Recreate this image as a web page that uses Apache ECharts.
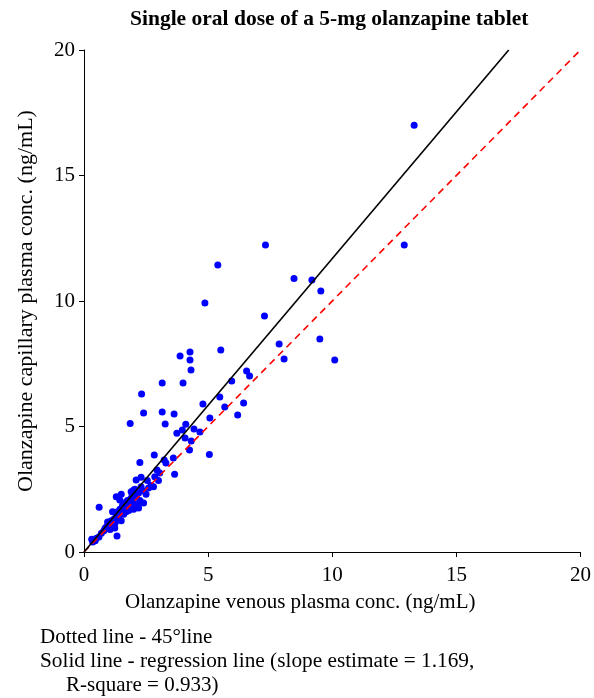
<!DOCTYPE html>
<html>
<head>
<meta charset="utf-8">
<script src="https://cdn.jsdelivr.net/npm/echarts@6/dist/echarts.min.js"></script>
<style>html,body{margin:0;padding:0;background:#fff;}#c{width:594px;height:698px;}</style>
</head>
<body>
<div id="c"></div>
<script>
// venous (x) vs capillary (y) olanzapine plasma conc., ng/mL
var venous = [13.3,12.9,7.31,5.39,8.46,9.18,9.54,4.87,7.27,9.5,7.86,8.06,10.1,5.51,4.27,3.87,4.27,4.31,6.55,6.67,3.15,3.99,5.95,2.32,5.47,4.79,6.43,5.67,6.19,2.4,3.15,3.63,5.07,1.86,3.27,4.1,4.43,4.67,3.96,3.74,4.07,4.32,4.25,5.05,2.83,2.25,3.23,3.3,3.65,3.6,2.94,3.05,2.85,2.1,2.3,2.55,2.7,2.0,1.9,1.44,0.61,1.33,1.24,0.31,
  0.35,0.45,0.5,0.6,0.7,0.8,0.9,1.0,1.05,1.1,1.2,1.25,1.3,1.35,1.4,1.45,1.5,1.55,1.6,1.65,1.7,1.75,1.8,1.85,1.9,1.95,2.0,2.05,2.1,2.15,2.2,2.25,2.3,2.35,2.4,2.5,2.6,2.8,3.0,1.15,1.05,0.95,1.5,1.6,1.7,2.0,1.3,1.5,1.8,2.2,0.85,1.1];
var capillary = [17.0,12.23,12.23,11.43,10.9,10.84,10.4,9.92,9.4,8.49,8.29,7.69,7.65,8.05,7.97,7.81,7.65,7.25,7.21,7.01,6.73,6.73,6.81,6.29,6.18,5.9,5.94,5.78,5.46,5.54,5.58,5.5,5.34,5.12,5.1,5.09,4.9,4.78,4.86,4.73,4.54,4.42,4.06,3.88,3.86,3.57,3.67,3.55,3.1,3.75,3.27,3.15,3.0,2.87,2.98,2.85,2.65,2.47,2.4,2.07,1.78,0.64,0.96,0.51,
  0.4,0.45,0.55,0.6,0.75,0.85,1.0,1.1,1.2,1.05,1.3,1.15,1.45,1.6,1.35,1.7,1.55,1.85,1.95,1.75,1.6,2.05,1.9,1.7,2.15,2.3,1.95,2.5,2.2,1.85,2.35,2.05,2.6,2.45,1.95,2.3,2.55,2.6,2.85,1.6,0.9,1.2,1.25,1.5,1.8,1.7,2.2,2.3,1.65,1.75,0.95,1.25];
var tickValues = [0,5,10,15,20];
var slopeEstimate = 1.169;
var titleText = 'Single oral dose of a 5-mg olanzapine tablet';
var xName = 'Olanzapine venous plasma conc. (ng/mL)';
var yName = 'Olanzapine capillary plasma conc. (ng/mL)';
var notes = ['Dotted line - 45\u00B0line', 'Solid line - regression line (slope estimate = 1.169,', 'R-square = 0.933)'];

var pts = venous.map(function(v,i){return [v, capillary[i]];});
var axMax = tickValues[tickValues.length-1];
var font = 'Liberation Serif, Times New Roman, serif';

function axis(){
  return {
    type:'value', min:tickValues[0], max:axMax, interval:5,
    splitLine:{show:false},
    axisLine:{show:true, onZero:false, lineStyle:{color:'#000', width:1}},
    axisTick:{show:true, inside:false, length:5, lineStyle:{color:'#000'}},
    axisLabel:{color:'#000', fontFamily:font, fontSize:21}
  };
}
var xa = axis(); xa.axisLabel.margin = 13;
var ya = axis(); ya.axisLabel.margin = 9;
ya.name = yName; ya.nameLocation='middle'; ya.nameRotate=90; ya.nameGap=47;
ya.nameTextStyle = {color:'#000', fontFamily:font, fontSize:22};

var chart = echarts.init(document.getElementById('c'), null, {renderer:'canvas'});
chart.setOption({
  animation:false,
  backgroundColor:'#fff',
  grid:{left:84, right:9, top:50, bottom:146, containLabel:false},
  xAxis: xa,
  yAxis: ya,
  graphic:[
    {type:'text', left:130, top:8, style:{text:titleText, fill:'#000', font:'bold 21.5px '+font}},
    {type:'text', left:125, top:592, style:{text:xName, fill:'#000', font:'21px '+font}},
    {type:'text', left:40, top:627, style:{text:notes[0], fill:'#000', font:'21px '+font}},
    {type:'text', left:40, top:651, style:{text:notes[1], fill:'#000', font:'21.3px '+font}},
    {type:'text', left:66, top:675, style:{text:notes[2], fill:'#000', font:'21px '+font}}
  ],
  series:[
    {type:'scatter', data:pts, symbol:'circle', symbolSize:7,
      itemStyle:{color:'#0000ff', opacity:1}, z:2},
    {type:'line', data:[[0,0],[axMax,axMax]], symbol:'none', z:3,
      lineStyle:{color:'#ff0000', width:1.6, type:[7,5]}},
    {type:'line', data:[[0,0],[axMax/slopeEstimate,axMax]], symbol:'none', z:4,
      lineStyle:{color:'#000', width:1.6, type:'solid'}}
  ]
});
</script>
</body>
</html>
